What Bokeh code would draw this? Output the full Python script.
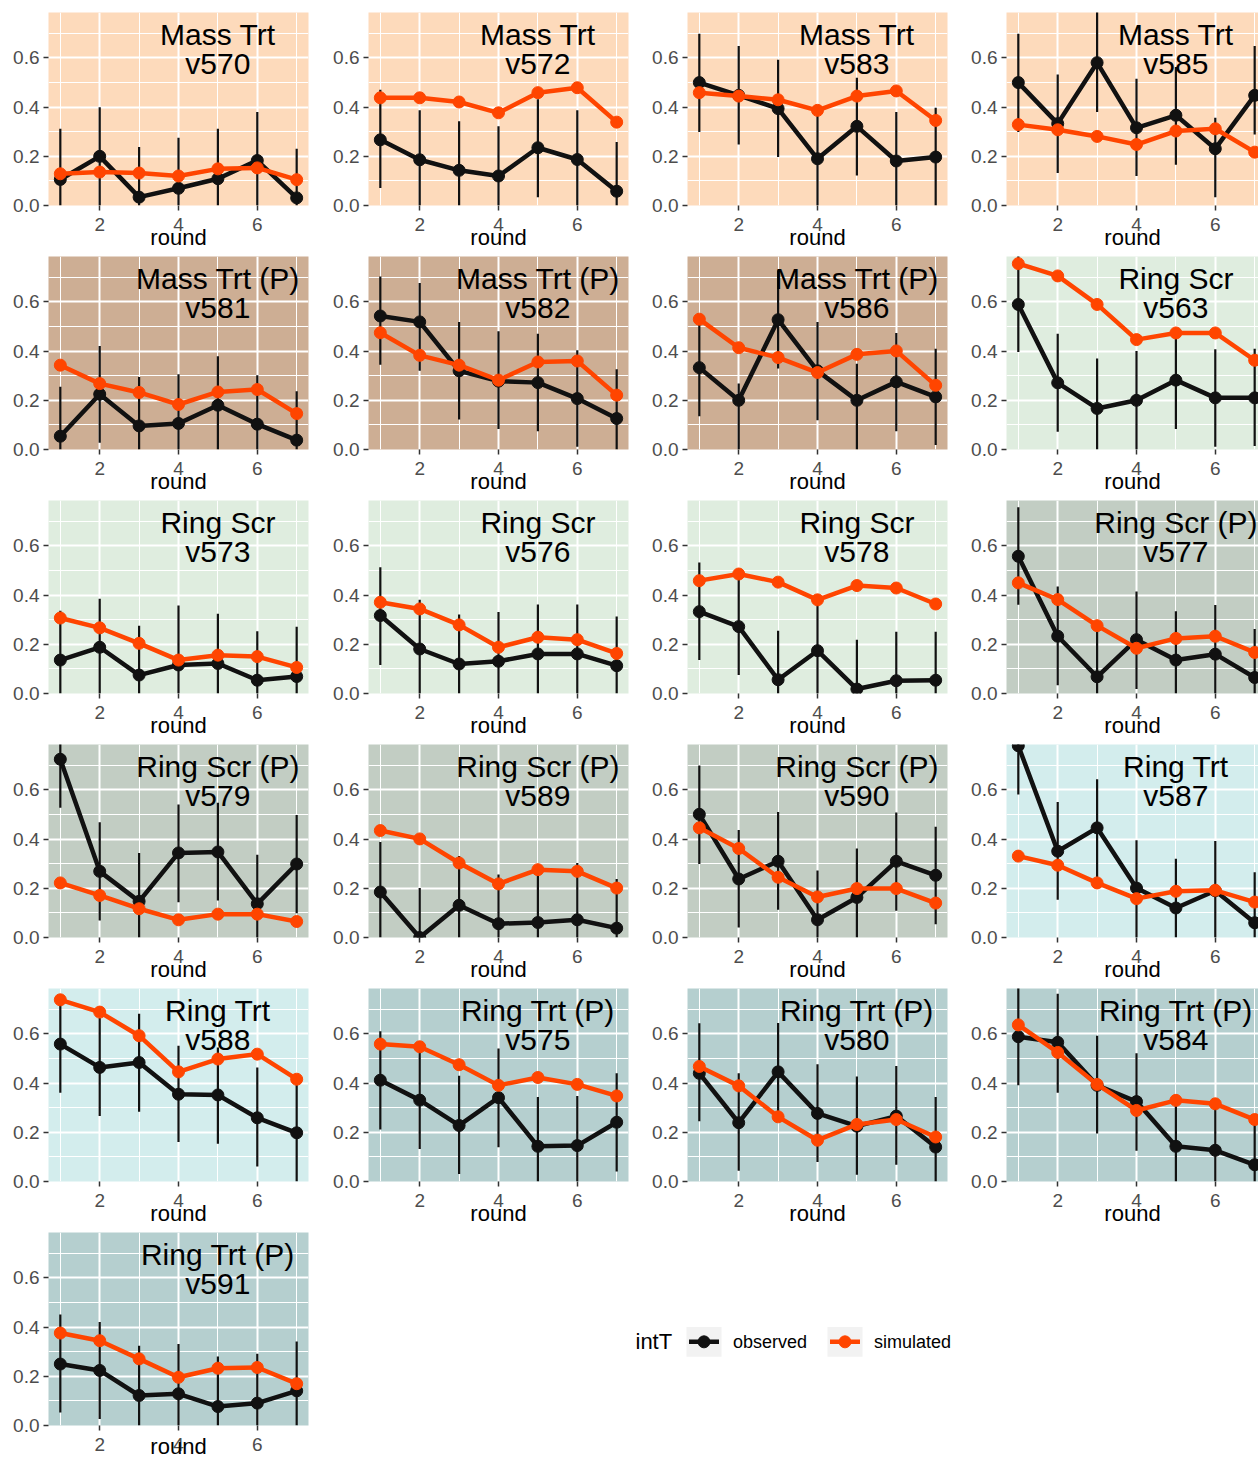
from bokeh.plotting import figure
from bokeh.models import Range1d, FixedTicker, NumeralTickFormatter
from bokeh.layouts import column, row
from bokeh.embed import file_html
from bokeh.resources import INLINE
from bokeh.core.properties import value

# ---------------- data ----------------
rounds = [1, 2, 3, 4, 5, 6, 7]

panel_ids = ["v570", "v572", "v583", "v585",
             "v581", "v582", "v586", "v563",
             "v573", "v576", "v578", "v577",
             "v579", "v589", "v590", "v587",
             "v588", "v575", "v580", "v584",
             "v591"]

panel_groups = ["Mass Trt", "Mass Trt", "Mass Trt", "Mass Trt",
                "Mass Trt (P)", "Mass Trt (P)", "Mass Trt (P)", "Ring Scr",
                "Ring Scr", "Ring Scr", "Ring Scr", "Ring Scr (P)",
                "Ring Scr (P)", "Ring Scr (P)", "Ring Scr (P)", "Ring Trt",
                "Ring Trt", "Ring Trt (P)", "Ring Trt (P)", "Ring Trt (P)",
                "Ring Trt (P)"]

observed = [
    [0.106, 0.200, 0.034, 0.070, 0.109, 0.183, 0.031],
    [0.267, 0.186, 0.143, 0.120, 0.235, 0.187, 0.058],
    [0.500, 0.448, 0.394, 0.190, 0.322, 0.181, 0.197],
    [0.500, 0.333, 0.581, 0.316, 0.367, 0.231, 0.448],
    [0.054, 0.225, 0.096, 0.106, 0.180, 0.103, 0.038],
    [0.543, 0.519, 0.320, 0.278, 0.272, 0.207, 0.126],
    [0.333, 0.200, 0.528, 0.320, 0.200, 0.275, 0.214],
    [0.590, 0.271, 0.167, 0.200, 0.282, 0.210, 0.210],
    [0.136, 0.188, 0.075, 0.116, 0.122, 0.054, 0.069],
    [0.317, 0.181, 0.120, 0.131, 0.161, 0.161, 0.113],
    [0.333, 0.272, 0.056, 0.174, 0.018, 0.052, 0.054],
    [0.558, 0.233, 0.068, 0.219, 0.136, 0.160, 0.065],
    [0.725, 0.269, 0.147, 0.344, 0.348, 0.137, 0.299],
    [0.185, 0.000, 0.131, 0.056, 0.061, 0.072, 0.038],
    [0.501, 0.238, 0.310, 0.072, 0.163, 0.310, 0.253],
    [0.780, 0.351, 0.446, 0.201, 0.120, 0.190, 0.060],
    [0.559, 0.464, 0.484, 0.355, 0.352, 0.259, 0.198],
    [0.412, 0.331, 0.228, 0.341, 0.143, 0.146, 0.241],
    [0.440, 0.239, 0.446, 0.277, 0.225, 0.266, 0.140],
    [0.589, 0.566, 0.391, 0.325, 0.143, 0.127, 0.068],
    [0.250, 0.224, 0.122, 0.129, 0.077, 0.091, 0.141],
]

observed_lo = [
    [0.0, 0.0, 0.0, 0.0, 0.0, 0.0, 0.0],
    [0.071, 0.0, 0.0, 0.0, 0.034, 0.0, 0.0],
    [0.299, 0.248, 0.197, 0.0, 0.122, 0.0, 0.0],
    [0.299, 0.132, 0.380, 0.120, 0.166, 0.034, 0.289],
    [0.0, 0.027, 0.0, 0.0, 0.0, 0.0, 0.0],
    [0.345, 0.320, 0.122, 0.083, 0.074, 0.011, 0.0],
    [0.135, 0.0, 0.329, 0.119, 0.0, 0.074, 0.018],
    [0.397, 0.072, 0.0, 0.0, 0.083, 0.011, 0.014],
    [0.0, 0.0, 0.0, 0.0, 0.0, 0.0, 0.0],
    [0.116, 0.0, 0.0, 0.0, 0.0, 0.0, 0.0],
    [0.136, 0.075, 0.0, 0.0, 0.0, 0.0, 0.0],
    [0.361, 0.034, 0.0, 0.018, 0.0, 0.0, 0.0],
    [0.528, 0.069, 0.0, 0.143, 0.150, 0.0, 0.099],
    [0.0, 0.0, 0.0, 0.0, 0.0, 0.0, 0.0],
    [0.299, 0.041, 0.113, 0.0, 0.0, 0.109, 0.054],
    [0.582, 0.154, 0.245, 0.0, 0.0, 0.0, 0.0],
    [0.361, 0.266, 0.284, 0.161, 0.154, 0.061, 0.0],
    [0.211, 0.132, 0.030, 0.139, 0.0, 0.0, 0.041],
    [0.245, 0.044, 0.245, 0.079, 0.027, 0.068, 0.0],
    [0.391, 0.361, 0.195, 0.125, 0.0, 0.0, 0.0],
    [0.053, 0.026, 0.0, 0.0, 0.0, 0.0, 0.0],
]

observed_hi = [
    [0.312, 0.400, 0.238, 0.276, 0.312, 0.380, 0.231],
    [0.471, 0.387, 0.343, 0.322, 0.432, 0.387, 0.258],
    [0.699, 0.649, 0.593, 0.367, 0.520, 0.380, 0.398],
    [0.699, 0.533, 0.800, 0.516, 0.563, 0.357, 0.649],
    [0.255, 0.421, 0.295, 0.306, 0.379, 0.302, 0.237],
    [0.704, 0.677, 0.519, 0.481, 0.471, 0.404, 0.326],
    [0.532, 0.268, 0.729, 0.519, 0.349, 0.474, 0.410],
    [0.800, 0.471, 0.370, 0.401, 0.478, 0.408, 0.410],
    [0.337, 0.385, 0.276, 0.358, 0.324, 0.253, 0.272],
    [0.514, 0.381, 0.321, 0.331, 0.362, 0.362, 0.313],
    [0.533, 0.480, 0.255, 0.375, 0.219, 0.251, 0.251],
    [0.758, 0.435, 0.276, 0.415, 0.335, 0.360, 0.262],
    [0.800, 0.469, 0.344, 0.541, 0.548, 0.337, 0.498],
    [0.388, 0.201, 0.331, 0.256, 0.294, 0.303, 0.238],
    [0.700, 0.437, 0.510, 0.273, 0.362, 0.508, 0.450],
    [0.800, 0.551, 0.644, 0.396, 0.320, 0.392, 0.265],
    [0.757, 0.665, 0.682, 0.552, 0.545, 0.464, 0.402],
    [0.611, 0.532, 0.430, 0.541, 0.344, 0.348, 0.440],
    [0.644, 0.440, 0.645, 0.477, 0.427, 0.470, 0.344],
    [0.800, 0.764, 0.593, 0.522, 0.341, 0.337, 0.266],
    [0.451, 0.421, 0.324, 0.331, 0.281, 0.292, 0.342],
]

simulated = [
    [0.129, 0.136, 0.132, 0.120, 0.149, 0.153, 0.105],
    [0.438, 0.438, 0.421, 0.377, 0.459, 0.479, 0.339],
    [0.459, 0.445, 0.430, 0.387, 0.445, 0.466, 0.346],
    [0.329, 0.308, 0.281, 0.248, 0.303, 0.312, 0.217],
    [0.343, 0.268, 0.232, 0.183, 0.234, 0.244, 0.146],
    [0.475, 0.383, 0.343, 0.282, 0.356, 0.360, 0.221],
    [0.530, 0.414, 0.374, 0.313, 0.387, 0.401, 0.261],
    [0.756, 0.706, 0.590, 0.447, 0.474, 0.474, 0.363],
    [0.307, 0.267, 0.204, 0.136, 0.156, 0.150, 0.106],
    [0.371, 0.344, 0.279, 0.188, 0.229, 0.219, 0.163],
    [0.459, 0.486, 0.453, 0.381, 0.439, 0.429, 0.364],
    [0.450, 0.382, 0.276, 0.184, 0.224, 0.233, 0.167],
    [0.222, 0.171, 0.117, 0.072, 0.095, 0.095, 0.065],
    [0.435, 0.401, 0.303, 0.218, 0.276, 0.269, 0.201],
    [0.446, 0.362, 0.245, 0.165, 0.199, 0.199, 0.140],
    [0.331, 0.294, 0.222, 0.158, 0.188, 0.192, 0.144],
    [0.739, 0.689, 0.593, 0.446, 0.498, 0.518, 0.416],
    [0.559, 0.548, 0.475, 0.391, 0.423, 0.395, 0.348],
    [0.468, 0.389, 0.263, 0.168, 0.232, 0.252, 0.181],
    [0.637, 0.525, 0.395, 0.289, 0.330, 0.316, 0.252],
    [0.376, 0.345, 0.271, 0.196, 0.233, 0.236, 0.170],
]

y_ticks = [0.0, 0.2, 0.4, 0.6]
y_minor_ticks = [0.1, 0.3, 0.5, 0.7]
x_ticks = [2, 4, 6]
x_minor_ticks = [1, 3, 5, 7]
x_title = "round"
legend_title = "intT"
series_names = ["observed", "simulated"]

# ---------------- style ----------------
group_fill = {
    "Mass Trt": "#FDDABB",
    "Mass Trt (P)": "#CDAE94",
    "Ring Scr": "#DFEDDF",
    "Ring Scr (P)": "#C2CDC3",
    "Ring Trt": "#D3EDED",
    "Ring Trt (P)": "#B5CFCF",
}
OBS_COLOR = "#111111"
SIM_COLOR = "#FF4500"
FONT = "Liberation Sans"

X0, X1 = 0.7, 7.3
Y0, Y1 = 0.0, 0.785
FRAME_W, FRAME_H = 260, 193
PX_PER_X = FRAME_W / (X1 - X0)
COL_LEFT = [48, 40, 40, 40]
COL_RIGHT = [20, 19, 19, 0]
COL_FRAME_W = [260, 260, 260, 252]
N_COLS = 4


def make_panel(idx):
    r, c = divmod(idx, N_COLS)
    last_row = (r == 5)
    fw = COL_FRAME_W[c]
    x_end = X0 + fw / PX_PER_X
    p = figure(frame_width=fw, frame_height=FRAME_H,
               x_range=Range1d(X0, x_end), y_range=Range1d(Y0, Y1),
               output_backend="svg", toolbar_location=None,
               min_border_left=COL_LEFT[c], min_border_right=COL_RIGHT[c],
               min_border_top=12 if r == 0 else 4,
               min_border_bottom=36 if last_row else 47,
               background_fill_color=group_fill[panel_groups[idx]],
               border_fill_color="white", outline_line_color=None)

    p.xaxis.ticker = FixedTicker(ticks=x_ticks, minor_ticks=x_minor_ticks)
    p.yaxis.ticker = FixedTicker(ticks=y_ticks, minor_ticks=y_minor_ticks)
    p.yaxis.formatter = NumeralTickFormatter(format="0.0")
    for ax in (p.xaxis[0], p.yaxis[0]):
        ax.axis_line_color = None
        ax.minor_tick_line_color = None
        ax.major_tick_in = 0
        ax.major_tick_out = 5
        ax.major_tick_line_color = "#333333"
        ax.major_tick_line_width = 1.5
        ax.major_label_text_font = FONT
        ax.major_label_text_font_size = "19px"
        ax.major_label_text_color = "#4D4D4D"
        ax.major_label_standoff = 4
    p.xaxis.major_label_standoff = 7
    p.xaxis.axis_label = x_title
    p.xaxis.axis_label_text_font = FONT
    p.xaxis.axis_label_text_font_size = "22px"
    p.xaxis.axis_label_text_font_style = "normal"
    p.xaxis.axis_label_text_color = "black"
    p.xaxis.axis_label_standoff = -20 if last_row else -9

    for g in (p.xgrid[0], p.ygrid[0]):
        g.grid_line_color = "white"
        g.grid_line_width = 2
        g.minor_grid_line_color = "white"
        g.minor_grid_line_width = 1

    p.segment(x0=rounds, y0=observed_lo[idx], x1=rounds, y1=observed_hi[idx],
              line_color=OBS_COLOR, line_width=2.2)
    p.line(rounds, observed[idx], line_color=OBS_COLOR, line_width=4.5)
    p.scatter(rounds, observed[idx], size=12, fill_color=OBS_COLOR, line_color=OBS_COLOR)
    p.line(rounds, simulated[idx], line_color=SIM_COLOR, line_width=4.5)
    p.scatter(rounds, simulated[idx], size=12, fill_color=SIM_COLOR, line_color=SIM_COLOR)

    p.text(x=[5], y=[0.694], text=[panel_groups[idx]], text_align="center",
           text_baseline="alphabetic", text_font=value(FONT),
           text_font_size="30px", text_color="black")
    p.text(x=[5], y=[0.579], text=[panel_ids[idx]], text_align="center",
           text_baseline="alphabetic", text_font=value(FONT),
           text_font_size="30px", text_color="black")
    return p


panels = [make_panel(i) for i in range(len(panel_ids))]

# legend area (rest of last row)
LW, LH = 1258 - 328, 233
leg = figure(width=LW, height=LH, x_range=Range1d(0, LW), y_range=Range1d(LH, 0),
             output_backend="svg", toolbar_location=None,
             x_axis_location=None, y_axis_location=None,
             min_border=0, outline_line_color=None,
             background_fill_color="white", border_fill_color="white")
leg.grid.visible = False
cy = 132
leg.text(x=[307], y=[cy], text=[legend_title], text_baseline="middle",
         text_font=value(FONT), text_font_size="22px", text_color="black")
key_cx = [375.5, 516.5]
key_colors = [OBS_COLOR, SIM_COLOR]
leg.rect(x=key_cx, y=[cy, cy], width=35, height=36, fill_color="#F2F2F2", line_color=None)
leg.segment(x0=[k - 15 for k in key_cx], y0=[cy, cy], x1=[k + 15 for k in key_cx], y1=[cy, cy],
            line_color=key_colors, line_width=4.5)
leg.scatter(x=key_cx, y=[cy, cy], size=12, fill_color=key_colors, line_color=key_colors)
leg.text(x=[k + 29 for k in key_cx], y=[cy, cy], text=series_names, text_baseline="middle",
         text_font=value(FONT), text_font_size="18px", text_color="black")

rows = []
for r in range(5):
    rows.append(row(panels[r * 4:(r + 1) * 4], spacing=0))
rows.append(row([panels[20], leg], spacing=0))
layout = column(rows, spacing=0)

open("out.html", "w").write(file_html(layout, INLINE))
